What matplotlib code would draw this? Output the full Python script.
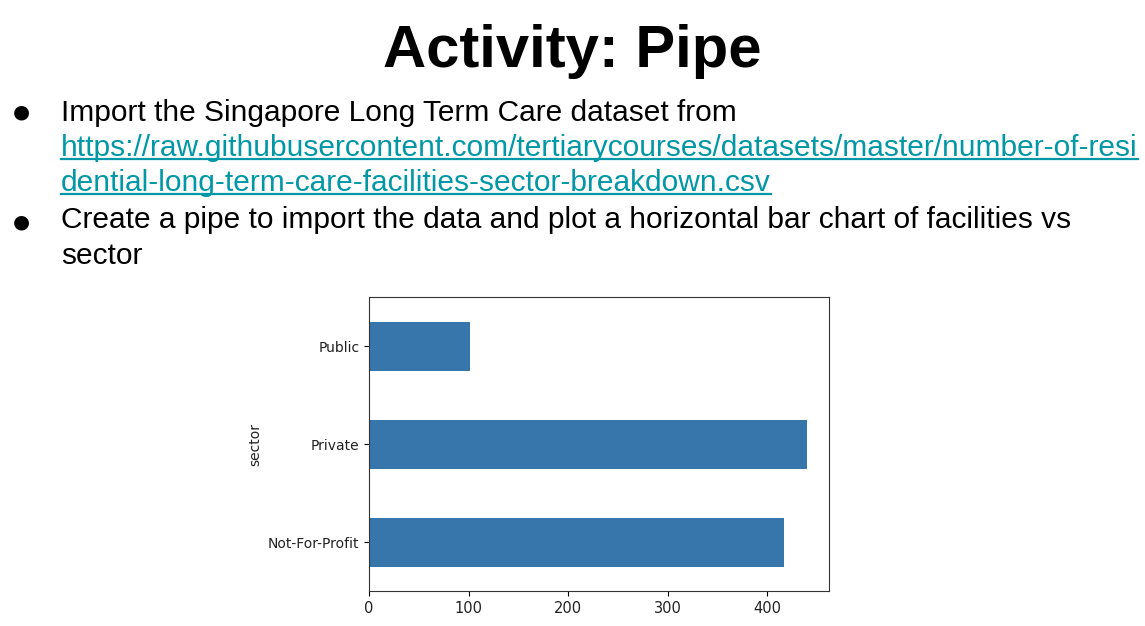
import matplotlib.pyplot as plt
from matplotlib.lines import Line2D

# slide text
title = "Activity: Pipe"
bullet_1 = "Import the Singapore Long Term Care dataset from"
link_lines = [
    "https://raw.githubusercontent.com/tertiarycourses/datasets/master/number-of-resi",
    "dential-long-term-care-facilities-sector-breakdown.csv",
]
bullet_2 = ["Create a pipe to import the data and plot a horizontal bar chart of facilities vs",
            "sector"]

# chart data (bottom to top, as pandas draws it)
sectors = ["Not-For-Profit", "Private", "Public"]
facilities = [417, 440, 101]

W, H = 1145, 626
text_font = ["Liberation Sans", "DejaVu Sans"]
link_color = "#0097a7"


def py(y):
    # pixel row from top -> figure fraction
    return 1 - y / H


def px(x):
    return x / W


def main():
    fig = plt.figure(figsize=(W / 100, H / 100), dpi=100)

    fig.text(0.5, py(67), title, ha="center", va="baseline",
             fontsize=43, fontweight="bold", family=text_font)

    # bullets
    for yb in (112, 222):
        fig.text(px(21), py(yb), "\u25cf", ha="center", va="center",
                 fontsize=14, family=["DejaVu Sans"])

    fig.text(px(61), py(121), bullet_1, va="baseline", fontsize=21.5, family=text_font)
    link_texts = []
    for line, yb in zip(link_lines, (156, 191)):
        t = fig.text(px(61), py(yb), line, va="baseline", fontsize=21.5,
                     family=text_font, color=link_color)
        link_texts.append((t, yb))
    for line, yb in zip(bullet_2, (228, 264)):
        fig.text(px(61), py(yb), line, va="baseline", fontsize=21.5, family=text_font)

    # underline the link
    fig.canvas.draw()
    renderer = fig.canvas.get_renderer()
    for t, yb in link_texts:
        bb = t.get_window_extent(renderer)
        x0, x1 = bb.x0 / W, bb.x1 / W
        fig.add_artist(Line2D([x0, x1], [py(yb + 3), py(yb + 3)],
                              color=link_color, lw=1.6, transform=fig.transFigure))

    # embedded bar chart
    ax = fig.add_axes([px(369), py(591), px(829) - px(369), py(297) - py(591)])
    ax.barh(range(len(sectors)), facilities, height=0.5, color="#3776ab")
    ax.set_yticks(range(len(sectors)))
    ax.set_yticklabels(sectors, fontsize=10, color="#222222")
    ax.set_ylim(-0.5, len(sectors) - 0.5)
    ax.set_xticks([0, 100, 200, 300, 400])
    ax.tick_params(axis="x", labelsize=10.5, labelcolor="#222222")
    ax.set_ylabel("sector", fontsize=10, color="#222222")
    for s in ax.spines.values():
        s.set_color("#333333")

    fig.savefig("out.png", dpi=100)


if __name__ == "__main__":
    main()
